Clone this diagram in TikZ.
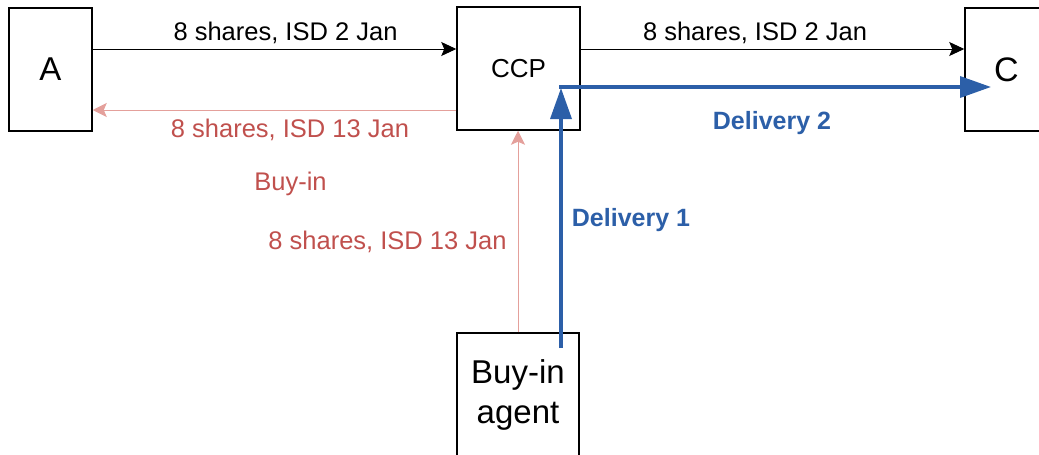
\documentclass[tikz,border=0pt]{standalone}
\usepackage{fontspec}
\setmainfont{Liberation Sans}
\usetikzlibrary{arrows.meta}
\definecolor{flowblue}{RGB}{44,95,168}
\definecolor{buyred}{RGB}{192,80,77}
\definecolor{buyline}{RGB}{228,160,155}
\begin{document}
\begin{tikzpicture}[x=1pt,y=-1pt,
  party/.style={draw=black, line width=1.5pt, minimum width=#1, minimum height=123pt, inner sep=0pt},
  party/.default=83pt,
  trade/.style={draw=black, line width=1pt, -{Stealth[length=15pt,width=14pt,inset=3pt]}},
  buyflow/.style={draw=buyline, line width=1pt, -{Stealth[length=14pt,width=14pt,inset=3pt,fill=buyline]}},
  delivery/.style={draw=flowblue, line width=3.5pt, -{Triangle[length=31pt,width=21pt]}},
  lbl/.style={anchor=base, inner sep=0pt, font=\fontsize{25.5}{30}\selectfont},
  redlbl/.style={lbl, text=buyred},
  bluelbl/.style={anchor=base, inner sep=0pt, text=flowblue, font=\fontsize{25}{30}\selectfont\bfseries}]
\useasboundingbox (0,0) rectangle (1039,455);
\clip (0,0) rectangle (1039,455);

% parties
\node[party=83pt, font=\fontsize{33}{38}\selectfont] (A) at (50.5,69.5) {A};
\node[party=123pt, font=\fontsize{26}{30}\selectfont] (ccp) at (518.5,68.5) {CCP};
\node[party=83pt, font=\fontsize{34}{38}\selectfont] (C) at (1006.5,69.5) {C};
\node[party=122pt, align=center, font=\fontsize{33}{40}\selectfont] (agent) at (518,394.5) {Buy-in\\agent};

% original trades
\draw[trade] (A.east |- 0,49) -- (ccp.west |- 0,49);
\draw[trade] (ccp.east |- 0,49) -- (C.west |- 0,49);
\node[lbl] (t1) at (285.5,40.5) {8 shares, ISD 2 Jan};
\node[lbl] (t2) at (755,40.5) {8 shares, ISD 2 Jan};

% buy-in legs
\draw[buyflow] (ccp.west |- 0,110) -- (A.east |- 0,110);
\draw[buyflow] (agent.north) -- (agent.north |- ccp.south);
\node[redlbl] (b1) at (290,137.5) {8 shares, ISD 13 Jan};
\node[redlbl] (b2) at (290.5,190) {Buy-in};
\node[redlbl] (b3) at (387.5,249) {8 shares, ISD 13 Jan};

% deliveries
\coordinate (d1s) at (561,348);
\coordinate (d1e) at (561,88);
\coordinate (d2s) at (559,87);
\coordinate (d2e) at (991,87);
\draw[delivery] (d1s) -- (d1e);
\draw[delivery] (d2s) -- (d2e);
\node[bluelbl] (dl1) at (631,226.5) {Delivery 1};
\node[bluelbl] (dl2) at (772,129.5) {Delivery 2};
\end{tikzpicture}
\end{document}
